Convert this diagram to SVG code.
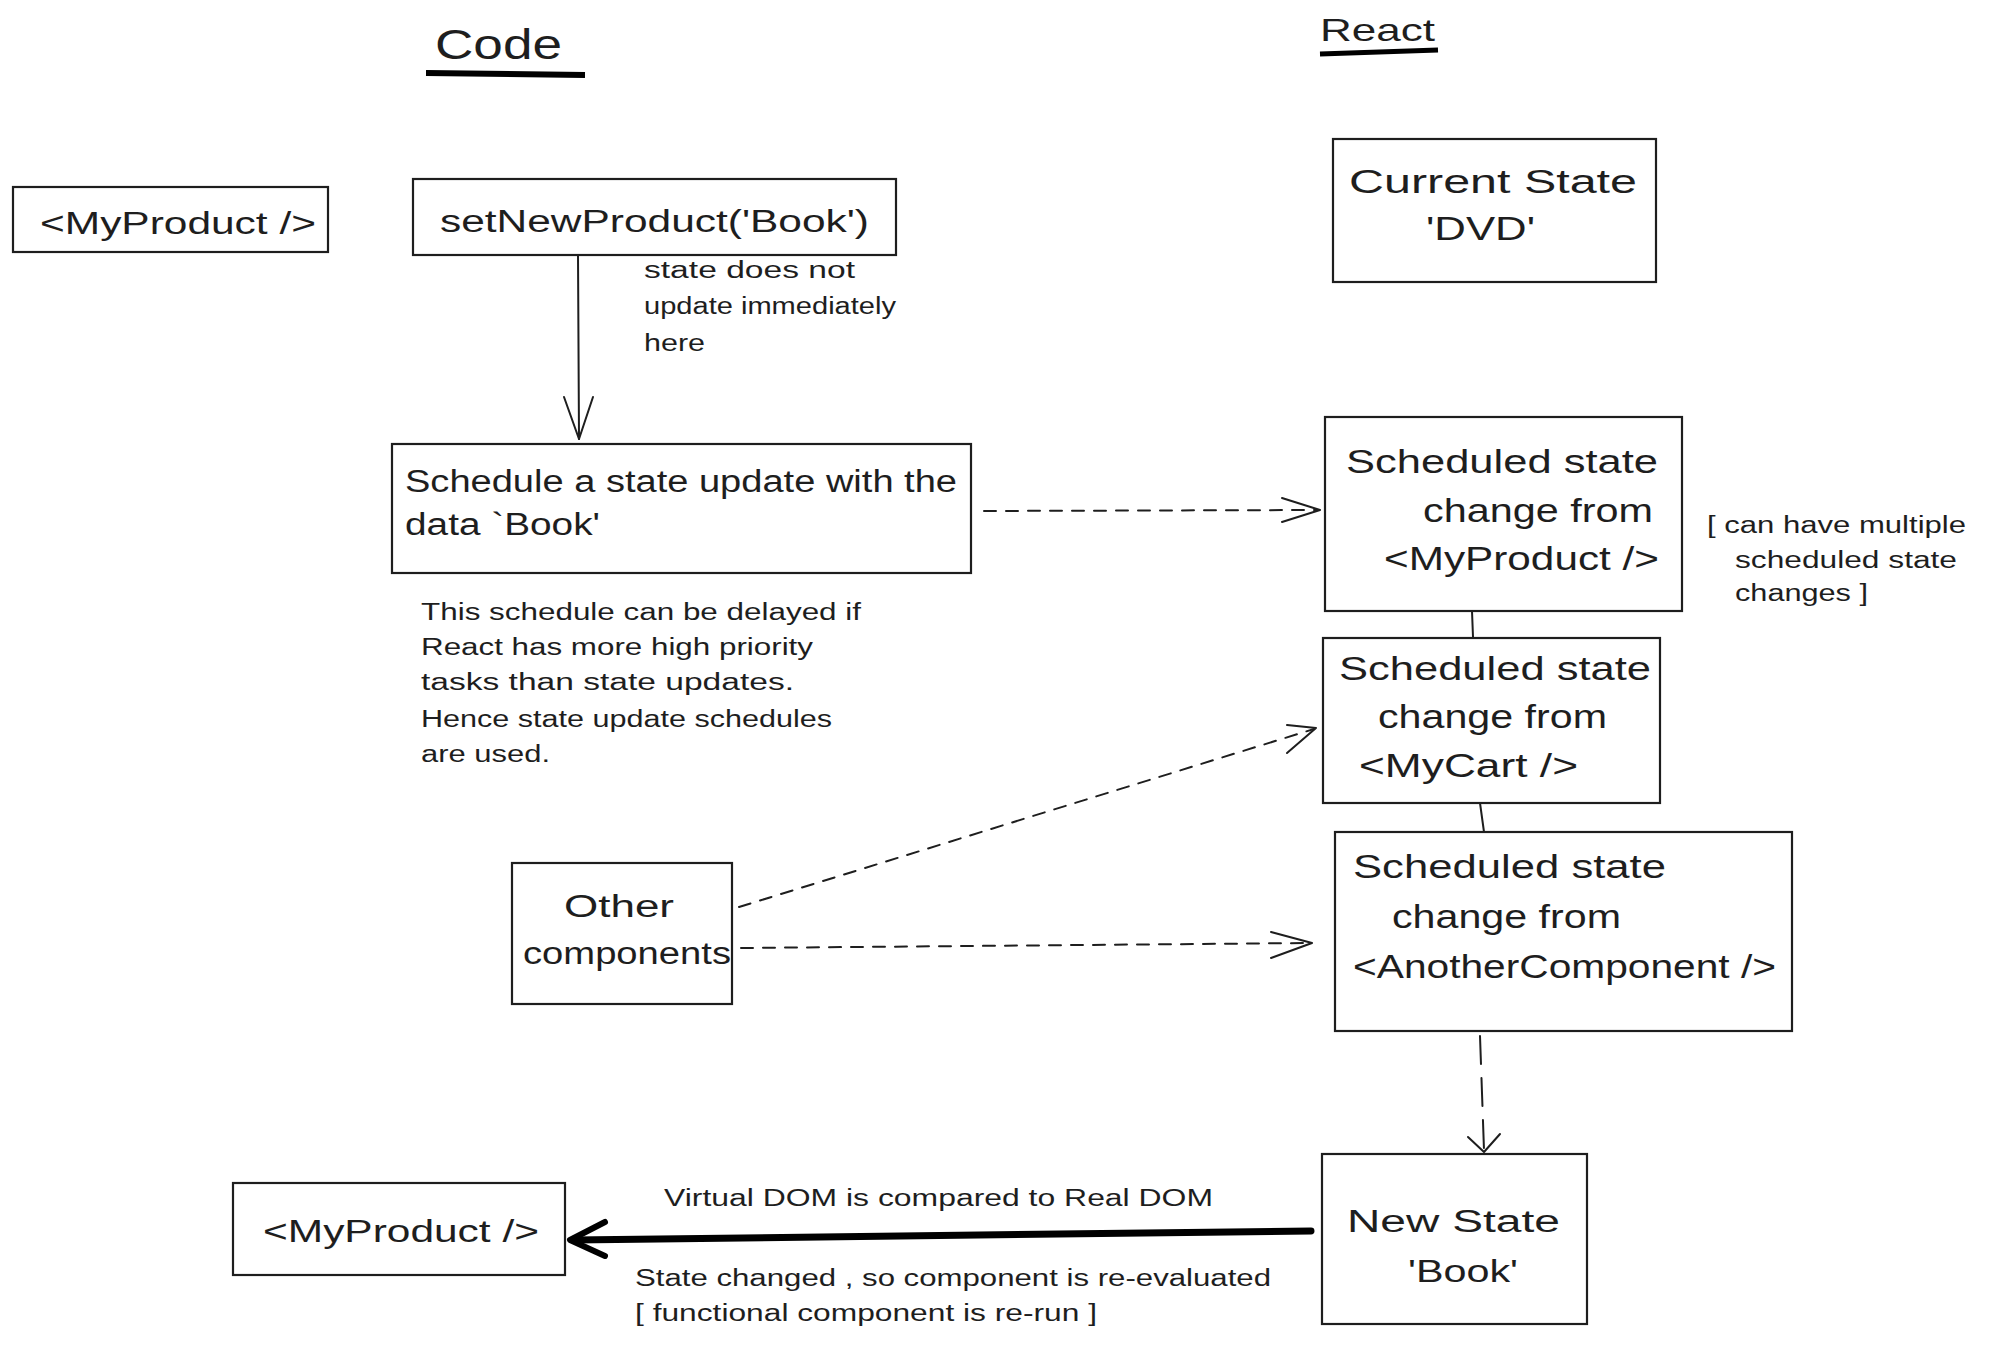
<svg xmlns="http://www.w3.org/2000/svg" width="2004" height="1352" viewBox="0 0 2004 1352">
<style>
  .box { fill: #ffffff; stroke: #1e1e1e; stroke-width: 2.2; }
  text { font-family: "Liberation Sans", "DejaVu Sans", sans-serif; fill: #1e1e1e; }
  .t32 { font-size: 31px; }
  .t34 { font-size: 33px; }
  .note { font-size: 23px; }
  .title { font-size: 42px; }
  .line { fill: none; stroke: #1e1e1e; stroke-width: 2; stroke-linecap: round; stroke-linejoin: round; }
  .dash { fill: none; stroke: #1e1e1e; stroke-width: 2; stroke-dasharray: 12 10; stroke-linecap: round; }
  .vdash { fill: none; stroke: #1e1e1e; stroke-width: 2; stroke-dasharray: 28 14; stroke-linecap: round; }
  .head { fill: none; stroke: #1e1e1e; stroke-width: 2; stroke-linecap: round; stroke-linejoin: round; }
  .bold { fill: none; stroke: #000; stroke-width: 7; stroke-linecap: round; stroke-linejoin: round; }
  .ul { fill: none; stroke: #000; stroke-width: 6; stroke-linecap: butt; }
</style>
<rect width="2004" height="1352" fill="#ffffff"/>

<g id="titles">
  <text class="title" x="435" y="59" textLength="127" lengthAdjust="spacingAndGlyphs">Code</text>
  <path class="ul" d="M426 73 L585 75"/>
  <text x="1320" y="41" font-size="32" textLength="115" lengthAdjust="spacingAndGlyphs">React</text>
  <path class="ul" d="M1320 54 L1438 50" style="stroke-width:5"/>
</g>

<g id="connectors">
  <!-- setNewProduct -> Schedule -->
  <path class="line" d="M578 255 L579 439"/>
  <path class="head" d="M564 397 L579 439 L593 397"/>
  <!-- Schedule -> Scheduled MyProduct -->
  <path class="dash" d="M984 511 L1318 510"/>
  <path class="head" d="M1282 498 L1320 510 L1282 522"/>
  <!-- Other -> MyCart -->
  <path class="dash" d="M739 907 L1314 729"/>
  <path class="head" d="M1287 725 L1316 728 L1287 753"/>
  <!-- Other -> AnotherComponent -->
  <path class="dash" d="M741 948 L1310 943"/>
  <path class="head" d="M1271 932 L1312 943 L1271 958"/>
  <!-- stack links -->
  <path class="line" d="M1472 611 L1473 637"/>
  <path class="line" d="M1480 803 L1484 832"/>
  <!-- AnotherComponent -> New State -->
  <path class="vdash" d="M1480 1036 L1484 1150"/>
  <path class="head" d="M1468 1137 L1484 1152 L1500 1134"/>
  <!-- New State -> MyProduct -->
  <path class="bold" d="M1311 1231 L574 1240"/>
  <path class="bold" d="M605 1222 L570 1240 L605 1256" style="stroke-width:6"/>
</g>

<g id="myproduct-top">
  <rect class="box" x="13" y="187" width="315" height="65"/>
  <text class="t32" x="40" y="234" textLength="276" lengthAdjust="spacingAndGlyphs">&lt;MyProduct /&gt;</text>
</g>

<g id="setnewproduct">
  <rect class="box" x="413" y="179" width="483" height="76"/>
  <text class="t32" x="440" y="232" textLength="429" lengthAdjust="spacingAndGlyphs">setNewProduct('Book')</text>
</g>

<g id="note-immediate">
  <text class="note" x="644" y="278" textLength="211" lengthAdjust="spacingAndGlyphs">state does not</text>
  <text class="note" x="644" y="314" textLength="252" lengthAdjust="spacingAndGlyphs">update immediately</text>
  <text class="note" x="644" y="351" textLength="61" lengthAdjust="spacingAndGlyphs">here</text>
</g>

<g id="schedule">
  <rect class="box" x="392" y="444" width="579" height="129"/>
  <text class="t32" x="405" y="492" textLength="552" lengthAdjust="spacingAndGlyphs">Schedule a state update with the</text>
  <text class="t32" x="405" y="535" textLength="195" lengthAdjust="spacingAndGlyphs">data `Book'</text>
</g>

<g id="note-delay">
  <text class="note" x="421" y="620" textLength="440" lengthAdjust="spacingAndGlyphs">This schedule can be delayed if</text>
  <text class="note" x="421" y="655" textLength="392" lengthAdjust="spacingAndGlyphs">React has more high priority</text>
  <text class="note" x="421" y="690" textLength="373" lengthAdjust="spacingAndGlyphs">tasks than state updates.</text>
  <text class="note" x="421" y="727" textLength="411" lengthAdjust="spacingAndGlyphs">Hence state update schedules</text>
  <text class="note" x="421" y="762" textLength="129" lengthAdjust="spacingAndGlyphs">are used.</text>
</g>

<g id="other-components">
  <rect class="box" x="512" y="863" width="220" height="141"/>
  <text class="t32" x="564" y="917" textLength="110" lengthAdjust="spacingAndGlyphs">Other</text>
  <text class="t32" x="523" y="964" textLength="208" lengthAdjust="spacingAndGlyphs">components</text>
</g>

<g id="current-state">
  <rect class="box" x="1333" y="139" width="323" height="143"/>
  <text class="t34" x="1349" y="193" textLength="288" lengthAdjust="spacingAndGlyphs">Current State</text>
  <text class="t34" x="1426" y="240" textLength="109" lengthAdjust="spacingAndGlyphs">'DVD'</text>
</g>

<g id="scheduled-myproduct">
  <rect class="box" x="1325" y="417" width="357" height="194"/>
  <text class="t34" x="1346" y="473" textLength="312" lengthAdjust="spacingAndGlyphs">Scheduled state</text>
  <text class="t34" x="1423" y="522" textLength="230" lengthAdjust="spacingAndGlyphs">change from</text>
  <text class="t34" x="1384" y="570" textLength="275" lengthAdjust="spacingAndGlyphs">&lt;MyProduct /&gt;</text>
</g>

<g id="note-multiple">
  <text class="note" x="1707" y="533" textLength="259" lengthAdjust="spacingAndGlyphs">[ can have multiple</text>
  <text class="note" x="1735" y="568" textLength="222" lengthAdjust="spacingAndGlyphs">scheduled state</text>
  <text class="note" x="1735" y="601" textLength="133" lengthAdjust="spacingAndGlyphs">changes ]</text>
</g>

<g id="scheduled-mycart">
  <rect class="box" x="1323" y="638" width="337" height="165"/>
  <text class="t34" x="1339" y="680" textLength="312" lengthAdjust="spacingAndGlyphs">Scheduled state</text>
  <text class="t34" x="1378" y="728" textLength="229" lengthAdjust="spacingAndGlyphs">change from</text>
  <text class="t34" x="1359" y="777" textLength="219" lengthAdjust="spacingAndGlyphs">&lt;MyCart /&gt;</text>
</g>

<g id="scheduled-another">
  <rect class="box" x="1335" y="832" width="457" height="199"/>
  <text class="t34" x="1353" y="878" textLength="313" lengthAdjust="spacingAndGlyphs">Scheduled state</text>
  <text class="t34" x="1392" y="928" textLength="229" lengthAdjust="spacingAndGlyphs">change from</text>
  <text class="t34" x="1353" y="978" textLength="423" lengthAdjust="spacingAndGlyphs">&lt;AnotherComponent /&gt;</text>
</g>

<g id="new-state">
  <rect class="box" x="1322" y="1154" width="265" height="170"/>
  <text class="t32" x="1347" y="1232" textLength="213" lengthAdjust="spacingAndGlyphs">New State</text>
  <text class="t32" x="1408" y="1282" textLength="110" lengthAdjust="spacingAndGlyphs">'Book'</text>
</g>

<g id="myproduct-bottom">
  <rect class="box" x="233" y="1183" width="332" height="92"/>
  <text class="t32" x="263" y="1242" textLength="276" lengthAdjust="spacingAndGlyphs">&lt;MyProduct /&gt;</text>
</g>

<g id="labels-bottom">
  <text class="note" x="664" y="1206" textLength="549" lengthAdjust="spacingAndGlyphs">Virtual DOM is compared to Real DOM</text>
  <text class="note" x="635" y="1286" textLength="636" lengthAdjust="spacingAndGlyphs">State changed , so component is re-evaluated</text>
  <text class="note" x="635" y="1321" textLength="462" lengthAdjust="spacingAndGlyphs">[ functional component is re-run ]</text>
</g>
</svg>
